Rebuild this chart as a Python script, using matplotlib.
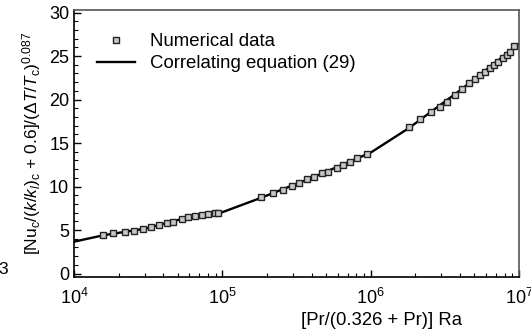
import matplotlib
matplotlib.use("Agg")
import matplotlib.pyplot as plt
from matplotlib.ticker import LogLocator, MultipleLocator, NullFormatter

plt.rcParams['font.family'] = ['Liberation Sans', 'DejaVu Sans']
plt.rcParams['mathtext.fontset'] = 'custom'
plt.rcParams['mathtext.rm'] = 'Liberation Sans'
plt.rcParams['mathtext.it'] = 'Liberation Sans:italic'
plt.rcParams['mathtext.bf'] = 'Liberation Sans:bold'

# Numerical data (three groups)
data_x = [15800, 18200, 22100, 25400, 29100, 33000, 37400, 42200, 46700, 53200,
          59000, 65500, 72600, 80500, 89300, 93500,
          181600, 220800, 255400, 293500, 330600, 370500, 415200, 467700, 518000,
          590000, 654000, 726000, 805000, 940000,
          1.82e6, 2.15e6, 2.55e6, 2.94e6, 3.29e6, 3.71e6, 4.11e6, 4.61e6, 5.05e6,
          5.47e6, 5.91e6, 6.38e6, 6.79e6, 7.26e6, 7.78e6, 8.27e6, 8.71e6, 9.27e6]
data_y = [4.43, 4.62, 4.80, 4.92, 5.11, 5.38, 5.57, 5.77, 5.95, 6.23,
          6.53, 6.64, 6.72, 6.84, 6.95, 6.99,
          8.76, 9.29, 9.60, 10.06, 10.44, 10.83, 11.06, 11.52, 11.70,
          12.09, 12.47, 12.85, 13.24, 13.74,
          16.80, 17.72, 18.60, 19.17, 19.75, 20.52, 21.17, 21.86, 22.32,
          22.82, 23.20, 23.59, 23.97, 24.34, 24.74, 25.11, 25.49, 26.15]

# Correlating equation (29)
line_x = [1e4, 1.58e4, 3e4, 6e4, 1e5, 1.82e5, 4e5, 1e6, 1.82e6, 4e6, 1e7]
line_y = [3.66, 4.40, 5.15, 6.50, 7.05, 8.70, 11.00, 13.90, 16.75, 21.05, 26.40]

xlabel = '[Pr/(0.326 + Pr)] Ra'
ylabel = r'[Nu$_\mathrm{c}$/($k$/$k_\mathit{l}$)$_\mathrm{c}$ + 0.6]/($\Delta$$T$/$T_\mathrm{c}$)$^{0.087}$'

fig = plt.figure(figsize=(5.31, 3.29), dpi=100)
ax = fig.add_axes([74/531, 1-277/329, (519-74)/531, (277-10)/329])

ax.plot(line_x, line_y, color='black', lw=1.7, label='Correlating equation (29)', zorder=2)
ax.plot(data_x, data_y, linestyle='none', marker='s', markersize=4.8,
        markerfacecolor='#c8c8c8', markeredgecolor='#222222', markeredgewidth=1.0,
        label='Numerical data', zorder=3)

ax.set_xscale('log')
ax.set_xlim(1e4, 1e7)
ax.set_ylim(-0.4, 30.3)
ax.yaxis.set_major_locator(MultipleLocator(5))
ax.yaxis.set_minor_locator(MultipleLocator(1))
ax.xaxis.set_major_locator(LogLocator(base=10, numticks=10))
ax.xaxis.set_minor_locator(LogLocator(base=10, subs=range(2, 10), numticks=20))
ax.xaxis.set_minor_formatter(NullFormatter())

ax.tick_params(which='both', direction='in', top=False, right=False, labelsize=13, colors='black')
ax.tick_params(which='major', length=5, width=1)
ax.tick_params(which='minor', length=3, width=0.8)
ax.tick_params(axis='x', pad=8)
for s in ax.spines.values():
    s.set_linewidth(1.2)
for s in ['top', 'right']:
    ax.spines[s].set_color('#555555')

ax.set_xlabel(xlabel, fontsize=13.3, labelpad=2)
ax.xaxis.set_label_coords(0.69, -0.13)
ax.set_ylabel(ylabel, fontsize=12.5, labelpad=4)

handles, labels = ax.get_legend_handles_labels()
leg = ax.legend(handles[::-1], labels[::-1], loc='upper left', bbox_to_anchor=(0.015, 0.975),
                frameon=False, fontsize=13.4, handlelength=2.0, handletextpad=0.8,
                labelspacing=0.25)

fig.text(-0.004, 1-270/329, '3', fontsize=12.5, va='center', ha='left')

fig.savefig('out.png', dpi=100)
